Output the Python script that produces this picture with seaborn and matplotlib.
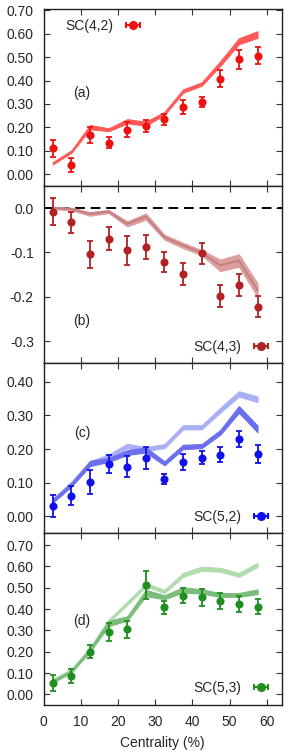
import numpy as np
import matplotlib
matplotlib.use("Agg")
import matplotlib.pyplot as plt
import seaborn as sns

# centrality bins (%)
cent = [2.5, 7.5, 12.5, 17.5, 22.5, 27.5, 32.5, 37.5, 42.5, 47.5, 52.5, 57.5]

# (a) SC(4,2)
sc42 = [0.110, 0.041, 0.168, 0.135, 0.190, 0.206, 0.234, 0.288, 0.308, 0.408, 0.491, 0.506]
sc42_err = [0.035, 0.030, 0.033, 0.025, 0.032, 0.025, 0.023, 0.030, 0.023, 0.035, 0.040, 0.035]
sc42_lo = [0.042, 0.092, 0.192, 0.184, 0.217, 0.208, 0.253, 0.348, 0.378, 0.463, 0.555, 0.582]
sc42_hi = [0.052, 0.102, 0.210, 0.196, 0.235, 0.224, 0.266, 0.362, 0.392, 0.482, 0.580, 0.610]

# (b) SC(4,3)
sc43 = [-0.008, -0.032, -0.104, -0.069, -0.095, -0.088, -0.122, -0.148, -0.102, -0.199, -0.173, -0.222]
sc43_err = [0.030, 0.024, 0.030, 0.026, 0.033, 0.027, 0.022, 0.025, 0.024, 0.025, 0.025, 0.024]
sc43_lo = [-0.002, -0.005, -0.017, -0.011, -0.041, -0.026, -0.071, -0.090, -0.106, -0.142, -0.132, -0.200]
sc43_hi = [0.003, 0.001, -0.009, -0.004, -0.030, -0.012, -0.060, -0.078, -0.095, -0.116, -0.104, -0.170]

# (c) SC(5,2)
sc52 = [0.030, 0.062, 0.102, 0.156, 0.148, 0.173, 0.112, 0.163, 0.175, 0.183, 0.230, 0.186]
sc52_err = [0.033, 0.028, 0.036, 0.027, 0.032, 0.032, 0.015, 0.024, 0.020, 0.022, 0.023, 0.026]
sc52_dark_lo = [0.041, 0.089, 0.150, 0.162, 0.183, 0.190, 0.152, 0.200, 0.203, 0.243, 0.308, 0.250]
sc52_dark_hi = [0.051, 0.099, 0.165, 0.174, 0.197, 0.205, 0.164, 0.213, 0.215, 0.257, 0.328, 0.270]
sc52_light_lo = [0.044, 0.094, 0.155, 0.172, 0.203, 0.194, 0.203, 0.259, 0.259, 0.309, 0.356, 0.340]
sc52_light_hi = [0.054, 0.104, 0.165, 0.184, 0.216, 0.206, 0.215, 0.271, 0.271, 0.323, 0.372, 0.356]

# (d) SC(5,3)
sc53 = [0.053, 0.085, 0.200, 0.294, 0.306, 0.513, 0.408, 0.463, 0.455, 0.438, 0.422, 0.411]
sc53_err = [0.038, 0.033, 0.031, 0.042, 0.040, 0.066, 0.031, 0.035, 0.040, 0.037, 0.037, 0.036]
sc53_dark_lo = [0.055, 0.102, 0.200, 0.320, 0.346, 0.460, 0.446, 0.478, 0.472, 0.457, 0.457, 0.470]
sc53_dark_hi = [0.067, 0.114, 0.214, 0.345, 0.366, 0.490, 0.464, 0.502, 0.492, 0.475, 0.475, 0.492]
sc53_light_lo = [0.060, 0.107, 0.208, 0.337, 0.419, 0.505, 0.474, 0.551, 0.579, 0.575, 0.551, 0.597]
sc53_light_hi = [0.072, 0.119, 0.222, 0.351, 0.435, 0.521, 0.490, 0.569, 0.599, 0.593, 0.569, 0.617]

sns.set_theme(style="ticks")
plt.rcParams['font.family'] = ['Liberation Sans', 'DejaVu Sans']
plt.rcParams['axes.unicode_minus'] = False

fig = plt.figure(figsize=(2.88, 7.55), dpi=100)
gs = fig.add_gridspec(4, 1, left=43.5 / 288, right=281.7 / 288,
                      top=1 - 9 / 755, bottom=1 - 705 / 755, hspace=0,
                      height_ratios=[177, 177.3, 170, 171.7])
axes = [fig.add_subplot(gs[i]) for i in range(4)]


def draw_points(ax, y, err, color, label):
    sns.scatterplot(x=cent, y=y, color=color, s=34, edgecolor=color, linewidth=0,
                    ax=ax, zorder=4, legend=False)
    ax.errorbar(cent, y, yerr=err, fmt='none', ecolor=color, elinewidth=1.3,
                capsize=2.5, capthick=1.3, zorder=3)
    # legend proxy: gnuplot style horizontal error bar
    ax.errorbar([np.nan], [np.nan], xerr=[1], fmt='o', color=color, ms=5.5,
                elinewidth=1.5, capsize=2.5, capthick=1.5, label=label)


def band(ax, lo, hi, color, alpha=1.0):
    ax.fill_between(cent, lo, hi, color=color, alpha=alpha, linewidth=0.8,
                    edgecolor=color, zorder=2)


# (a)
ax = axes[0]
band(ax, sc42_lo, sc42_hi, '#ff5a5a')
draw_points(ax, sc42, sc42_err, '#ee1111', 'SC(4,2)')
ax.set_ylim(-0.05, 0.705)
ax.set_yticks(np.arange(0, 0.71, 0.1))
ax.set_yticklabels([f"{v:.2f}" for v in np.arange(0, 0.71, 0.1)])
ax.text(10.3, 0.347, "(a)", ha='center', va='center', fontsize=10)
ax.legend(loc='upper left', bbox_to_anchor=(0.05, 1.0), frameon=False,
          markerfirst=False, fontsize=10, handlelength=1.6, handletextpad=0.6,
          borderaxespad=0.3)

# (b)
ax = axes[1]
ax.axhline(0, color='black', lw=1.4, ls=(0, (5, 3)), zorder=1)
band(ax, sc43_lo, sc43_hi, '#dca0a0')
ax.plot(cent, [(l + h) / 2 for l, h in zip(sc43_lo, sc43_hi)], color='#c67f80',
        lw=1.5, zorder=2)
draw_points(ax, sc43, sc43_err, '#b22222', 'SC(4,3)')
ax.set_ylim(-0.35, 0.05)
ax.set_yticks([0.0, -0.1, -0.2, -0.3])
ax.set_yticklabels(["0.0", "-0.1", "-0.2", "-0.3"])
ax.text(10.3, -0.255, "(b)", ha='center', va='center', fontsize=10)

# (c)
ax = axes[2]
band(ax, sc52_light_lo, sc52_light_hi, '#aab0f5')
band(ax, sc52_dark_lo, sc52_dark_hi, '#6b6fec')
draw_points(ax, sc52, sc52_err, '#1010ee', 'SC(5,2)')
ax.set_ylim(-0.05, 0.455)
ax.set_yticks(np.arange(0, 0.41, 0.1))
ax.set_yticklabels([f"{v:.2f}" for v in np.arange(0, 0.41, 0.1)])
ax.text(10.3, 0.247, "(c)", ha='center', va='center', fontsize=10)

# (d)
ax = axes[3]
band(ax, sc53_light_lo, sc53_light_hi, '#b2dcb0')
band(ax, sc53_dark_lo, sc53_dark_hi, '#7cbc7a')
draw_points(ax, sc53, sc53_err, '#1f8f1f', 'SC(5,3)')
ax.set_ylim(-0.05, 0.755)
ax.set_yticks(np.arange(0, 0.71, 0.1))
ax.set_yticklabels([f"{v:.2f}" for v in np.arange(0, 0.71, 0.1)])
ax.text(10.3, 0.343, "(d)", ha='center', va='center', fontsize=10)
ax.set_xlabel("Centrality (%)", fontsize=10, labelpad=5)

for i, ax in enumerate(axes):
    ax.set_xlim(0, 64)
    ax.set_xticks(range(0, 61, 10))
    ax.tick_params(direction='in', top=True, right=True, length=4, width=0.8,
                   labelsize=10, pad=7, color='#333333')
    for s in ax.spines.values():
        s.set_linewidth(1.0)
        s.set_color('#222222')
    if i < 3:
        ax.tick_params(labelbottom=False)
    if i > 0:
        ax.legend(loc='lower right', frameon=False, markerfirst=False, fontsize=10,
                  handlelength=1.6, handletextpad=0.6, borderaxespad=0.3)

fig.savefig("out.png", dpi=100)
